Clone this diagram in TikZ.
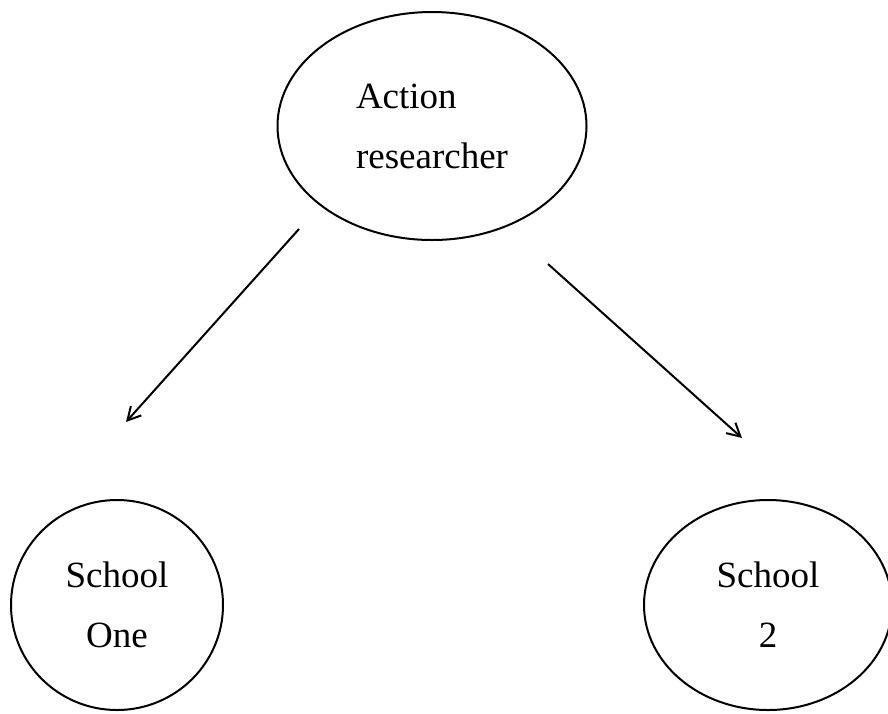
\documentclass[tikz,border=0pt]{standalone}
\usepackage{fontspec}
\setmainfont{Liberation Serif}
\usetikzlibrary{shapes.geometric, arrows.meta}
\tikzstyle{bubble} = [ellipse, draw, line width=2pt, inner sep=0pt, align=center, font=\fontsize{37}{60}\selectfont]
\tikzstyle{arrow} = [-{Straight Barb[length=13pt, width=14pt, line width=2pt]}, line width=2pt]

\begin{document}
\begin{tikzpicture}[x=1pt, y=-1pt]
\useasboundingbox (0,0) rectangle (888,713);

% Top node
\node[bubble, align=left, minimum width=309pt, minimum height=228pt] (researcher) at (432,126) {Action\\researcher};

% Bottom row
\node[bubble, minimum width=212pt, minimum height=210pt] (schoolone) at (117,605) {School\\One};
\node[bubble, minimum width=248pt, minimum height=210pt] (schooltwo) at (768,605) {School\\2};

% Free arrow ends
\coordinate (leftfrom) at (299,229);
\coordinate (lefttip) at (126,422);
\coordinate (rightfrom) at (548,264);
\coordinate (righttip) at (742,438);

% Arrows
\draw[arrow] (leftfrom) -- (lefttip);
\draw[arrow] (rightfrom) -- (righttip);

\end{tikzpicture}
\end{document}
